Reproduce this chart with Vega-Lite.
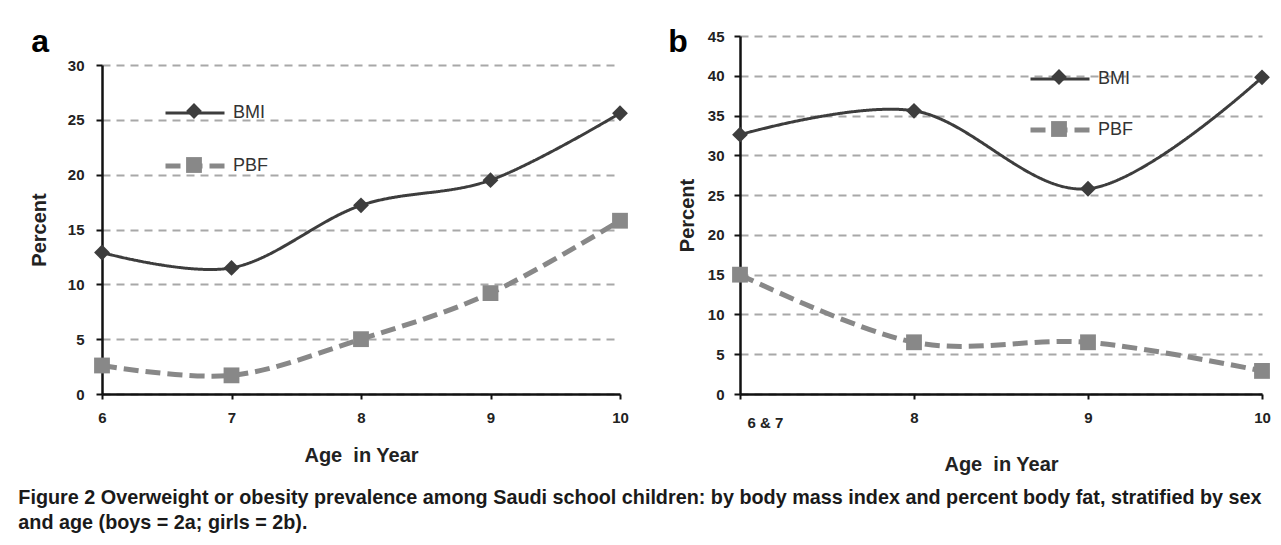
{
  "$schema": "https://vega.github.io/schema/vega-lite/v6.json",
  "background": "white",
  "padding": {"left": 18, "top": 26, "right": 5, "bottom": 5},
  "datasets": {
    "a": [
      {"age": 6, "series": "BMI", "percent": 12.9},
      {"age": 7, "series": "BMI", "percent": 11.5},
      {"age": 8, "series": "BMI", "percent": 17.2},
      {"age": 9, "series": "BMI", "percent": 19.5},
      {"age": 10, "series": "BMI", "percent": 25.6},
      {"age": 6, "series": "PBF", "percent": 2.6},
      {"age": 7, "series": "PBF", "percent": 1.7},
      {"age": 8, "series": "PBF", "percent": 5.0},
      {"age": 9, "series": "PBF", "percent": 9.2},
      {"age": 10, "series": "PBF", "percent": 15.8}
    ],
    "b": [
      {"age": "6 & 7", "series": "BMI", "percent": 32.6},
      {"age": "8", "series": "BMI", "percent": 35.6},
      {"age": "9", "series": "BMI", "percent": 25.8},
      {"age": "10", "series": "BMI", "percent": 39.8},
      {"age": "6 & 7", "series": "PBF", "percent": 15.0},
      {"age": "8", "series": "PBF", "percent": 6.5},
      {"age": "9", "series": "PBF", "percent": 6.5},
      {"age": "10", "series": "PBF", "percent": 2.9}
    ]
  },
  "config": {
    "font": "Liberation Sans, Arial, sans-serif",
    "view": {"stroke": null},
    "axis": {
      "domainColor": "#111111",
      "domainWidth": 2.5,
      "tickColor": "#111111",
      "tickWidth": 2,
      "labelFont": "Liberation Sans, Arial, sans-serif",
      "labelFontSize": 15,
      "labelFontWeight": "bold",
      "labelColor": "#222222",
      "titleFont": "Liberation Sans, Arial, sans-serif",
      "titleFontSize": 20,
      "titleFontWeight": "bold",
      "titleColor": "#222222",
      "gridColor": "#a8a8a8",
      "gridDash": [8, 6],
      "gridWidth": 2
    },
    "axisX": {"grid": false},
    "legend": {
      "labelFont": "Liberation Sans, Arial, sans-serif",
      "labelFontSize": 18,
      "labelColor": "#333333",
      "labelFontWeight": "normal"
    }
  },
  "title": {
    "text": [
      "Figure 2 Overweight or obesity prevalence among Saudi school children: by body mass index and percent body fat, stratified by sex",
      "and age (boys = 2a; girls = 2b)."
    ],
    "orient": "bottom",
    "anchor": "start",
    "frame": "bounds",
    "font": "Liberation Sans, Arial, sans-serif",
    "fontSize": 19.8,
    "fontWeight": "bold",
    "color": "#1a1a1a",
    "lineHeight": 25,
    "baseline": "top",
    "offset": 14,
    "dx": -11
  },
  "columns": 2,
  "spacing": 38,
  "concat": [
    {
      "width": 518,
      "height": 358,
      "title": {"text": "a", "anchor": "start", "frame": "bounds", "fontSize": 32, "fontWeight": "bold", "color": "#000000", "baseline": "alphabetic", "offset": -48, "dx": 2},
      "data": {"name": "a"},
      "encoding": {
        "x": {"field": "age", "type": "quantitative", "scale": {"domain": [6, 10], "nice": false, "zero": false},
          "axis": {"values": [6, 7, 8, 9, 10], "format": "d", "title": "Age\u00a0 in Year", "labelFlush": false, "tickSize": 5, "labelPadding": 11, "titlePadding": 20}},
        "y": {"field": "percent", "type": "quantitative", "scale": {"domain": [0, 30], "nice": false, "zero": true, "range": [358, 29]},
          "axis": {"values": [0, 5, 10, 15, 20, 25, 30], "title": "Percent", "tickSize": 6, "labelPadding": 12, "titlePadding": 18}}
      },
      "layer": [
        {
          "mark": {"type": "line", "interpolate": "cardinal", "clip": false},
          "encoding": {
            "color": {"field": "series", "type": "nominal", "scale": {"domain": ["BMI", "PBF"], "range": ["#3d3d3d", "#888888"]},
              "legend": {"title": null, "orient": "none", "legendX": 61, "legendY": 46, "symbolType": "stroke", "symbolSize": 3481, "symbolStrokeWidth": 4, "rowPadding": 12, "labelOffset": 6}},
            "strokeDash": {"field": "series", "type": "nominal", "scale": {"domain": ["BMI", "PBF"], "range": [[1, 0], [15, 7]]},
              "legend": {"title": null, "orient": "none", "legendX": 61, "legendY": 46, "symbolType": "stroke", "symbolSize": 3481, "symbolStrokeWidth": 4, "rowPadding": 12, "labelOffset": 6}},
            "strokeWidth": {"field": "series", "type": "nominal", "scale": {"domain": ["BMI", "PBF"], "range": [3, 5]},
              "legend": {"title": null, "orient": "none", "legendX": 61, "legendY": 46, "symbolType": "stroke", "symbolSize": 3481, "symbolStrokeWidth": 4, "rowPadding": 12, "labelOffset": 6}}
          }
        },
        {
          "mark": {"type": "point", "filled": true, "size": 250, "opacity": 1, "clip": false},
          "encoding": {
            "color": {"field": "series", "type": "nominal", "scale": {"domain": ["BMI", "PBF"], "range": ["#3d3d3d", "#888888"]},
              "legend": {"title": null, "orient": "none", "legendX": 83, "legendY": 66, "symbolSize": 250, "rowPadding": 36, "labelOpacity": 0}},
            "shape": {"field": "series", "type": "nominal", "scale": {"domain": ["BMI", "PBF"], "range": ["diamond", "square"]},
              "legend": {"title": null, "orient": "none", "legendX": 83, "legendY": 66, "symbolSize": 250, "rowPadding": 36, "labelOpacity": 0}}
          }
        }
      ],
      "resolve": {"legend": {"color": "independent", "strokeDash": "independent", "strokeWidth": "independent", "shape": "independent"}}
    },
    {
      "width": 522,
      "height": 358,
      "title": {"text": "b", "anchor": "start", "frame": "bounds", "fontSize": 32, "fontWeight": "bold", "color": "#000000", "baseline": "alphabetic", "offset": -55, "dx": -9},
      "data": {"name": "b"},
      "encoding": {
        "x": {"field": "age", "type": "ordinal", "scale": {"type": "point", "domain": ["6 & 7", "8", "9", "10"], "padding": 0},
          "axis": {"title": "Age\u00a0 in Year", "labelAngle": 0, "tickSize": 5, "titlePadding": 24,
            "labelPadding": {"condition": {"test": "datum.value === '6 & 7'", "value": 16}, "value": 11},
            "labelAlign": {"condition": {"test": "datum.value === '6 & 7'", "value": "left"}, "value": "center"},
            "labelOffset": {"condition": {"test": "datum.value === '6 & 7'", "value": 7}, "value": 0}}},
        "y": {"field": "percent", "type": "quantitative", "scale": {"domain": [0, 45], "nice": false, "zero": true},
          "axis": {"values": [0, 5, 10, 15, 20, 25, 30, 35, 40, 45], "title": "Percent", "tickSize": 6, "labelPadding": 10, "titlePadding": 10}}
      },
      "layer": [
        {
          "mark": {"type": "line", "interpolate": "cardinal", "clip": false},
          "encoding": {
            "color": {"field": "series", "type": "nominal", "scale": {"domain": ["BMI", "PBF"], "range": ["#3d3d3d", "#888888"]},
              "legend": {"title": null, "orient": "none", "legendX": 288, "legendY": 12, "symbolType": "stroke", "symbolSize": 3481, "symbolStrokeWidth": 4, "rowPadding": 10, "labelOffset": 6}},
            "strokeDash": {"field": "series", "type": "nominal", "scale": {"domain": ["BMI", "PBF"], "range": [[1, 0], [15, 7]]},
              "legend": {"title": null, "orient": "none", "legendX": 288, "legendY": 12, "symbolType": "stroke", "symbolSize": 3481, "symbolStrokeWidth": 4, "rowPadding": 10, "labelOffset": 6}},
            "strokeWidth": {"field": "series", "type": "nominal", "scale": {"domain": ["BMI", "PBF"], "range": [3, 5]},
              "legend": {"title": null, "orient": "none", "legendX": 288, "legendY": 12, "symbolType": "stroke", "symbolSize": 3481, "symbolStrokeWidth": 4, "rowPadding": 10, "labelOffset": 6}}
          }
        },
        {
          "mark": {"type": "point", "filled": true, "size": 250, "opacity": 1, "clip": false},
          "encoding": {
            "color": {"field": "series", "type": "nominal", "scale": {"domain": ["BMI", "PBF"], "range": ["#3d3d3d", "#888888"]},
              "legend": {"title": null, "orient": "none", "legendX": 310, "legendY": 32, "symbolSize": 250, "rowPadding": 34, "labelOpacity": 0}},
            "shape": {"field": "series", "type": "nominal", "scale": {"domain": ["BMI", "PBF"], "range": ["diamond", "square"]},
              "legend": {"title": null, "orient": "none", "legendX": 310, "legendY": 32, "symbolSize": 250, "rowPadding": 34, "labelOpacity": 0}}
          }
        }
      ],
      "resolve": {"legend": {"color": "independent", "strokeDash": "independent", "strokeWidth": "independent", "shape": "independent"}}
    }
  ]
}
